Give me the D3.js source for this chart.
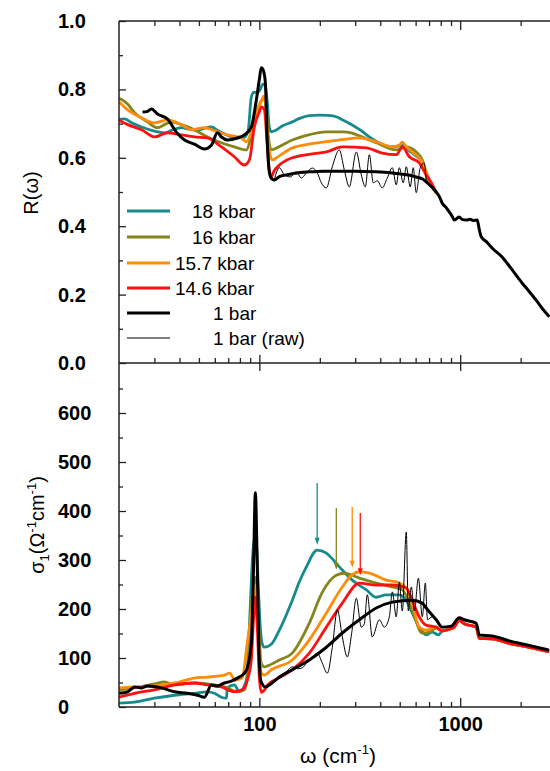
<!DOCTYPE html>
<html lang="en">
<head>
<meta charset="utf-8">
<script src="https://d3js.org/d3.v7.min.js"></script>
<style>
  body { margin: 0; background: #fff; }
  svg text { font-family: "Liberation Sans", Arial, sans-serif; }
</style>
</head>
<body>
<div id="chart"></div>
<script>
  // ---- data: [omega (cm-1), value] ----
  // reflectance R(omega), top panel
  const refl18kbar = [[20,0.712],[21.3,0.714],[23,0.703],[25.9,0.69],[30,0.678],[33.7,0.673],[36.5,0.68],[40.9,0.688],[45,0.683],[49.1,0.68],[53,0.686],[57.7,0.69],[62,0.68],[66.9,0.67],[72,0.662],[77.7,0.658],[84.2,0.66],[88,0.68],[91.2,0.778],[94,0.792],[97.7,0.79],[101,0.8],[104,0.815],[107.1,0.81],[109.6,0.76],[112,0.69],[114.7,0.676],[120,0.68],[130,0.693],[145.9,0.705],[160,0.716],[177,0.723],[199,0.725],[220,0.724],[241.6,0.72],[265,0.708],[290,0.696],[320,0.68],[353,0.661],[400,0.642],[459,0.632],[500,0.635],[515,0.638],[540,0.628],[577,0.614],[620,0.6],[647,0.588],[670,0.56],[690,0.535],[710,0.522]];
  const refl16kbar = [[20,0.773],[20.7,0.77],[22,0.758],[23.9,0.732],[27.7,0.705],[31.1,0.688],[33.7,0.697],[36.5,0.705],[40.9,0.697],[47.5,0.682],[55.1,0.661],[64.7,0.644],[75.1,0.632],[86.2,0.623],[89.2,0.644],[92.3,0.69],[97.7,0.74],[103.5,0.77],[106,0.775],[108.5,0.74],[111,0.66],[114.7,0.623],[125,0.632],[145.9,0.652],[170,0.665],[215.6,0.676],[258.8,0.676],[290,0.672],[314.8,0.664],[382,0.644],[481,0.623],[539,0.632],[604,0.617],[647,0.594],[677,0.556],[700,0.535],[720,0.518]];
  const refl157kbar = [[20,0.764],[22.1,0.74],[25.9,0.717],[30,0.702],[34.9,0.711],[40.9,0.697],[45.9,0.682],[53.3,0.688],[59.7,0.679],[69.3,0.667],[81.4,0.658],[86.2,0.647],[91.2,0.676],[96.6,0.732],[103.5,0.773],[105,0.78],[107,0.76],[109.6,0.68],[112,0.62],[116,0.594],[125,0.605],[145.9,0.629],[177,0.64],[215.6,0.647],[258,0.653],[314.8,0.658],[382,0.647],[459,0.632],[500,0.638],[515,0.646],[535,0.635],[577,0.617],[647,0.588],[701,0.536],[740,0.505],[770,0.494]];
  const refl146kbar = [[20,0.71],[22.1,0.697],[25.9,0.682],[30,0.661],[34.9,0.673],[40.9,0.667],[47.5,0.661],[55.1,0.658],[64.7,0.632],[75.1,0.603],[84.2,0.579],[89.2,0.594],[94.4,0.69],[100,0.735],[102.3,0.749],[105.9,0.74],[109.6,0.632],[112,0.565],[114.7,0.544],[118,0.56],[125.8,0.579],[145.9,0.6],[177,0.61],[215.6,0.617],[258.8,0.632],[300,0.631],[341,0.629],[409,0.614],[481,0.609],[515,0.632],[558,0.603],[625,0.585],[677,0.55],[725,0.523],[750,0.505]];
  const refl1bar = [[26.2,0.734],[27.5,0.735],[29,0.743],[31.1,0.728],[34.9,0.713],[38.6,0.675],[42.4,0.652],[47.5,0.64],[53.3,0.626],[57.7,0.637],[61.8,0.673],[65,0.66],[69.3,0.652],[77.7,0.658],[84.2,0.667],[91.2,0.69],[96.6,0.769],[100,0.83],[102.3,0.863],[104.7,0.855],[107.1,0.82],[109.6,0.643],[112,0.56],[114.7,0.54],[118.7,0.535],[125.8,0.545],[136.2,0.55],[150,0.555],[177,0.559],[210,0.561],[258.8,0.561],[300,0.561],[382,0.559],[450,0.556],[498,0.553],[560,0.549],[604,0.544],[650,0.538],[677,0.53],[700,0.522],[730,0.512],[760,0.5],[790,0.485],[813,0.468],[850,0.455],[882,0.442],[910,0.43],[934,0.418],[960,0.422],[989,0.427],[1020,0.42],[1071,0.418],[1120,0.42],[1160,0.417],[1216,0.418],[1240,0.395],[1271,0.37],[1350,0.355],[1450,0.335],[1617,0.31],[1800,0.275],[2033,0.234],[2200,0.21],[2388,0.184],[2600,0.155],[2780,0.135]];
  const reflRaw1bar = [[118.7,0.536],[125.8,0.571],[133.2,0.55],[142.6,0.544],[152.8,0.559],[161.8,0.541],[173.3,0.559],[183.5,0.57],[194.3,0.556],[203.5,0.527],[215.6,0.512],[230.8,0.574],[250,0.623],[264.8,0.565],[280.4,0.515],[303.9,0.617],[321.8,0.55],[336.9,0.515],[353,0.609],[369.2,0.527],[386.5,0.533],[409.2,0.512],[433.4,0.541],[459.3,0.571],[480.4,0.521],[497.6,0.571],[520.5,0.527],[539,0.574],[563.9,0.515],[583.7,0.571],[604,0.498],[632.4,0.571],[662.2,0.585],[677,0.53]];

  // optical conductivity sigma1, bottom panel
  const sigmaTailPressure = [[813,155],[870,158],[934,163],[989,177],[1047,170],[1202,163],[1245,140],[1443,139],[1754,130],[2129,123],[2772,113]];
  const sigma18kbar = [[20,8],[23.9,10],[30,18],[37.8,24],[47.5,28],[55.1,31],[59.7,28],[64.7,20],[68.5,18],[69.3,39],[75.1,45],[79.5,31],[86.2,55],[89.2,163],[92.3,300],[94.4,340],[96.6,330],[98.9,240],[101.2,160],[103.5,128],[105.9,122],[114.7,128],[125.8,157],[145.9,218],[158,255],[171.4,286],[194,320],[215.6,314],[250,286],[290,259],[341,239],[382,224],[428,229],[498,229],[539,218],[577,192],[625,163],[677,147],[725,153],[780,147]];
  const sigma16kbar = [[20,35],[23.9,39],[30,47],[33.7,51],[37.8,45],[47.5,49],[59.7,45],[69.3,39],[77.7,31],[84.2,35],[87.1,60],[89.5,163],[92.3,230],[95,265],[97,250],[99.5,160],[102,90],[105.9,82],[110,84],[125.8,96],[145.9,110],[177.3,171],[205,233],[241.6,269],[264.8,273],[314.8,263],[382,253],[459,245],[515,239],[577,198],[647,151],[701,153],[760,161]];
  const sigma157kbar = [[20,39],[23.9,41],[30,43],[37.8,49],[47.5,59],[55.1,61],[66.9,65],[71,69],[75.8,55],[82,59],[87.1,131],[92,200],[95,243],[97.5,200],[100,120],[102.3,69],[105.9,65],[114.7,76],[145.9,96],[177.3,137],[215.6,192],[258.8,245],[290,270],[314.8,276],[353,273],[428,259],[498,253],[539,243],[577,212],[625,163],[677,157],[760,163]];
  const sigma146kbar = [[20,20],[23.9,28],[30,35],[37.8,45],[47.5,49],[55.1,45],[64.7,41],[75.1,31],[82,35],[87.1,55],[91.2,96],[93.5,180],[95.5,224],[97.5,170],[100,60],[102.3,30],[105.9,35],[110,45],[125.8,60],[145.9,76],[177.3,110],[215.6,163],[258.8,212],[314.8,253],[382,249],[459,249],[539,243],[577,218],[625,184],[677,167],[760,163]];
  const sigma1bar = [[20,28],[22.1,31],[23.9,41],[25.9,39],[27.7,43],[32.6,39],[37.8,31],[43.8,28],[49.2,24],[53.3,20],[57.7,45],[61.8,43],[66.9,49],[72.6,53],[77.7,59],[84.2,69],[87.1,80],[91.2,131],[93.5,280],[95.5,437],[97.5,300],[99.5,120],[101.5,55],[104,45],[107.1,41],[112,45],[125.8,61],[145.9,76],[177.3,96],[215.6,122],[258.8,151],[314.8,178],[382,202],[459,214],[577,218],[647,212],[677,202],[760,178],[813,163],[902,165],[989,182],[1047,178],[1202,171],[1245,147],[1443,145],[1754,135],[2129,127],[2772,116]];
  const sigmaRaw1bar = [[118.7,55],[125.8,63],[136.2,72],[145.9,82],[155,78],[163.6,80],[173,92],[183.5,102],[194.3,110],[205.5,90],[217.9,69],[230.8,122],[244.6,198],[258.9,143],[274.2,102],[288,150],[303.9,222],[321.8,163],[333,170],[344.7,229],[365,143],[395.6,178],[419,163],[443.8,184],[459.3,235],[480.4,184],[497.6,255],[515.1,196],[539,357],[551.6,196],[571.2,245],[591.5,196],[619,263],[647.7,184],[670.6,253],[687.6,178],[725.1,184],[760,178]];

  // peak arrows: omega, sigma at tail, sigma at head
  const arrowOmega = [194, 241.6, 290, 318];
  const arrowTop = [457, 406, 408, 396];
  const arrowBottom = [331, 280, 284, 269];

  const legendLabels = ["18 kbar", "16 kbar", "15.7 kbar", "14.6 kbar", "1 bar", "1 bar (raw)"];
  const xMajorTicks = [100, 1000];
  const xMinorTicks = [30, 40, 50, 60, 70, 80, 90, 200, 300, 400, 500, 600, 700, 800, 900, 2000];

  // ---- layout ----
  const W = 550, H = 771;
  const left = 119, right = 556;
  const svg = d3.select("#chart").append("svg").attr("width", W).attr("height", H);

  const x = d3.scaleLog().domain([20, 3000]).range([left, right]);
  const yR = d3.scaleLinear().domain([0, 1]).range([363, 21]);
  const yS = d3.scaleLinear().domain([0, 700]).range([707, 364]);

  const defs = svg.append("defs");
  defs.append("clipPath").attr("id", "clipTop").append("rect")
    .attr("x", left).attr("y", 21).attr("width", right - left).attr("height", 342);
  defs.append("clipPath").attr("id", "clipBot").append("rect")
    .attr("x", left).attr("y", 363).attr("width", right - left).attr("height", 344);

  const series = [
    { label: legendLabels[0], color: "#178b8b", width: 2.8, R: refl18kbar, S: sigma18kbar.concat(sigmaTailPressure) },
    { label: legendLabels[1], color: "#85851a", width: 2.8, R: refl16kbar, S: sigma16kbar.concat(sigmaTailPressure) },
    { label: legendLabels[2], color: "#ff8c0a", width: 2.8, R: refl157kbar, S: sigma157kbar.concat(sigmaTailPressure) },
    { label: legendLabels[3], color: "#ff1010", width: 2.8, R: refl146kbar, S: sigma146kbar.concat(sigmaTailPressure) },
    { label: legendLabels[4], color: "#000", width: 3, R: refl1bar, S: sigma1bar },
    { label: legendLabels[5], color: "#000", width: 1, R: reflRaw1bar, S: sigmaRaw1bar }
  ];

  const lineR = d3.line().x(d => x(d[0])).y(d => yR(d[1])).curve(d3.curveMonotoneX);
  const lineS = d3.line().x(d => x(d[0])).y(d => yS(d[1])).curve(d3.curveMonotoneX);

  const gTop = svg.append("g").attr("clip-path", "url(#clipTop)");
  const gBot = svg.append("g").attr("clip-path", "url(#clipBot)");
  // raw drawn before the thick 1 bar curve
  const drawOrder = [0, 1, 2, 3, 5, 4];
  drawOrder.forEach(i => {
    const s = series[i];
    gTop.append("path").attr("d", lineR(s.R)).attr("fill", "none")
      .attr("stroke", s.color).attr("stroke-width", s.width).attr("stroke-linejoin", "round");
    gBot.append("path").attr("d", lineS(s.S)).attr("fill", "none")
      .attr("stroke", s.color).attr("stroke-width", s.width).attr("stroke-linejoin", "round");
  });

  // arrows
  const arrowColors = series.slice(0, 4).map(s => s.color);
  arrowColors.forEach((c, i) => {
    const ax = x(arrowOmega[i]), y0 = yS(arrowTop[i]), y1 = yS(arrowBottom[i]);
    svg.append("line").attr("x1", ax).attr("x2", ax).attr("y1", y0).attr("y2", y1 - 4)
      .attr("stroke", c).attr("stroke-width", 1.3);
    svg.append("path").attr("d", `M${ax - 2.5},${y1 - 7} L${ax + 2.5},${y1 - 7} L${ax},${y1} Z`).attr("fill", c);
  });

  // ---- axes ----
  const frame = svg.append("g").attr("stroke", "#222").attr("stroke-width", 1.5).attr("fill", "none");
  frame.append("line").attr("x1", left).attr("x2", left).attr("y1", 21).attr("y2", 707);
  frame.append("line").attr("x1", left).attr("x2", right).attr("y1", 21).attr("y2", 21);
  frame.append("line").attr("x1", left).attr("x2", right).attr("y1", 363).attr("y2", 363);
  frame.append("line").attr("x1", left).attr("x2", right).attr("y1", 707).attr("y2", 707);

  const tickStyle = g => {
    g.select(".domain").remove();
    g.selectAll(".tick line").attr("stroke", "#222").attr("stroke-width", 1.3);
    g.selectAll(".tick text").attr("font-size", 20).attr("font-weight", "bold").attr("fill", "#000");
  };

  // x ticks: top edge, middle edge, bottom edge
  svg.append("g").attr("transform", "translate(0,21)")
    .call(d3.axisTop(x).tickValues(xMajorTicks).tickSize(-9).tickFormat("")).call(tickStyle);
  svg.append("g").attr("transform", "translate(0,21)")
    .call(d3.axisTop(x).tickValues(xMinorTicks).tickSize(-5).tickFormat("")).call(tickStyle);
  svg.append("g").attr("transform", "translate(0,355)")
    .call(d3.axisBottom(x).tickValues(xMajorTicks).tickSizeInner(16).tickSizeOuter(0).tickFormat("")).call(tickStyle);
  svg.append("g").attr("transform", "translate(0,363)")
    .call(d3.axisBottom(x).tickValues(xMinorTicks).tickSizeInner(-5).tickSizeOuter(0).tickFormat("")).call(tickStyle);
  svg.append("g").attr("transform", "translate(0,707)")
    .call(d3.axisBottom(x).tickValues(xMinorTicks).tickSizeInner(-5).tickSizeOuter(0).tickFormat("")).call(tickStyle);
  const xBottom = svg.append("g").attr("transform", "translate(0,707)")
    .call(d3.axisBottom(x).tickValues(xMajorTicks).tickSizeInner(-9).tickSizeOuter(0).tickFormat(d3.format("d")))
    .call(tickStyle);
  xBottom.selectAll(".tick text").attr("dy", null).attr("y", 24);

  // y ticks
  const yLeft = (scale, major, minor, fmt) => {
    svg.append("g").attr("transform", `translate(${left},0)`)
      .call(d3.axisLeft(scale).tickValues(minor).tickSize(-4).tickFormat("")).call(tickStyle);
    const g = svg.append("g").attr("transform", `translate(${left},0)`)
      .call(d3.axisLeft(scale).tickValues(major).tickSize(-7).tickFormat(fmt)).call(tickStyle);
    g.selectAll(".tick text").attr("text-anchor", "start").attr("x", 58 - left);
  };
  yLeft(yR, [0, 0.2, 0.4, 0.6, 0.8, 1.0], [0.1, 0.3, 0.5, 0.7, 0.9], d3.format(".1f"));
  yLeft(yS, [0, 100, 200, 300, 400, 500, 600], [50, 150, 250, 350, 450, 550, 650], d3.format("d"));

  // axis titles
  svg.append("text").attr("transform", "translate(38,193) rotate(-90)")
    .attr("text-anchor", "middle").attr("font-size", 20).text("R(ω)");

  const sTitle = svg.append("text").attr("transform", "translate(44,525) rotate(-90)")
    .attr("text-anchor", "middle").attr("font-size", 20);
  sTitle.append("tspan").text("σ");
  sTitle.append("tspan").attr("font-size", 13).attr("dy", 5).text("1");
  sTitle.append("tspan").attr("dy", -5).text("(Ω");
  sTitle.append("tspan").attr("font-size", 13).attr("dy", -8).text("-1");
  sTitle.append("tspan").attr("dy", 8).text("cm");
  sTitle.append("tspan").attr("font-size", 13).attr("dy", -8).text("-1");
  sTitle.append("tspan").attr("dy", 8).text(")");

  const xTitle = svg.append("text").attr("x", 338).attr("y", 763)
    .attr("text-anchor", "middle").attr("font-size", 21);
  xTitle.append("tspan").text("ω (cm");
  xTitle.append("tspan").attr("font-size", 13).attr("dy", -9).text("-1");
  xTitle.append("tspan").attr("dy", 9).text(")");

  // ---- legend ----
  const legendY = [211, 237, 263, 288, 313, 338];
  const legendTextX = [192, 192, 175, 175, 213, 213];
  series.forEach((s, i) => {
    svg.append("line").attr("x1", 127).attr("x2", 170).attr("y1", legendY[i]).attr("y2", legendY[i])
      .attr("stroke", s.color).attr("stroke-width", s.width);
    svg.append("text").attr("x", legendTextX[i]).attr("y", legendY[i] + 7)
      .attr("font-size", 19).text(s.label);
  });
</script>
</body>
</html>
